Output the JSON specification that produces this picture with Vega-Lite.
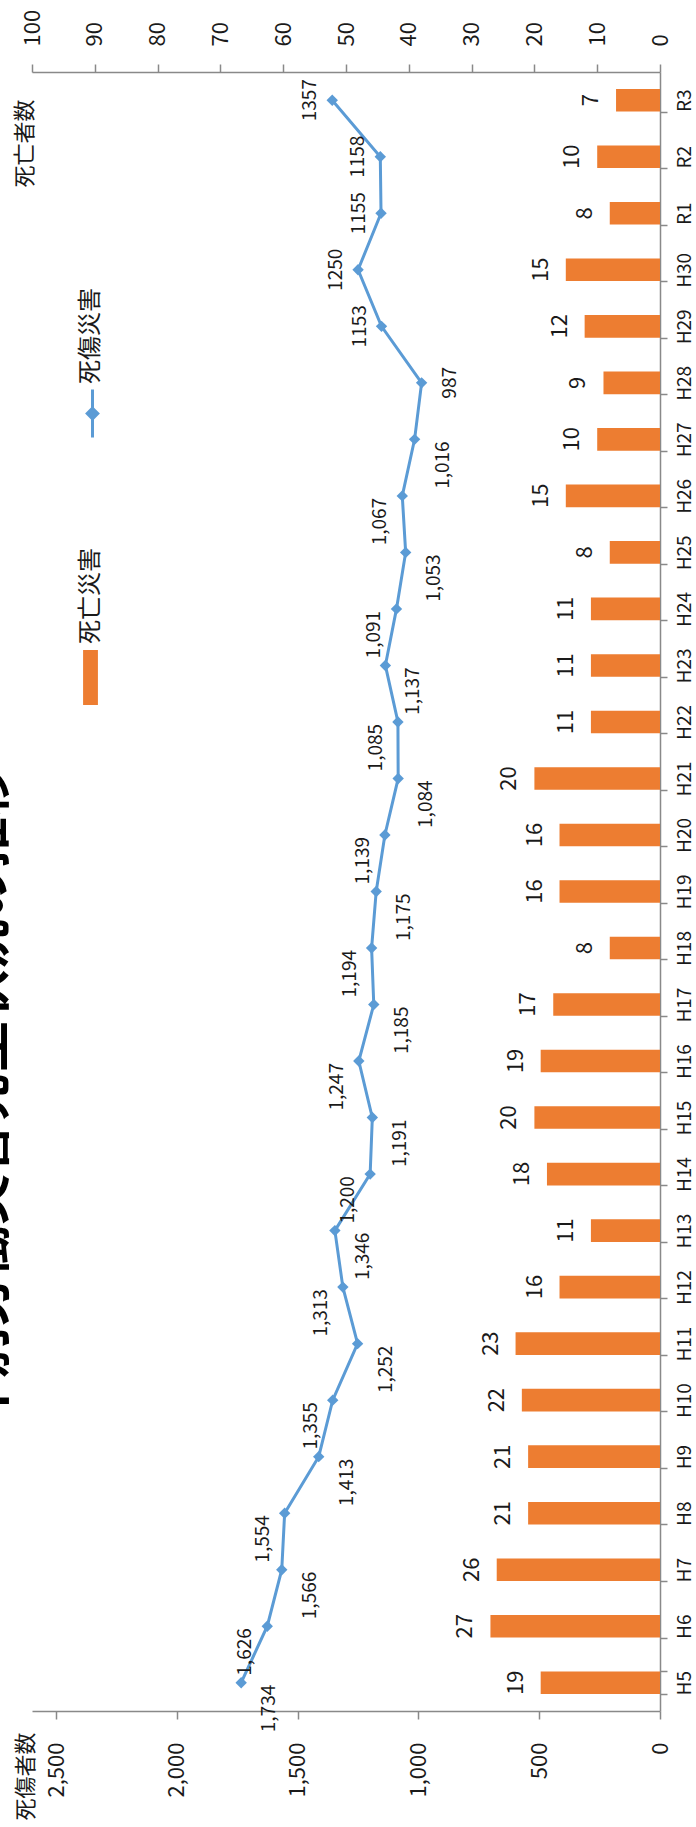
{
  "$schema": "https://vega.github.io/schema/vega-lite/v6.json",
  "width": 628,
  "height": 1639,
  "autosize": "none",
  "padding": {"left": 32, "top": 72, "right": 36, "bottom": 116},
  "background": "white",
  "config": {
    "font": "Noto Sans CJK JP",
    "view": {"stroke": null},
    "axis": {"grid": false, "domainColor": "#898989", "tickColor": "#898989", "domainWidth": 1.5, "tickWidth": 1.5, "labelColor": "#1a1a1a", "titleColor": "#1a1a1a", "titleFontWeight": "normal", "labelFont": "Noto Sans CJK JP", "titleFont": "Noto Sans CJK JP"}
  },
  "title": {
    "text": "年別労働災害発生状況の推移",
    "orient": "left",
    "anchor": "middle",
    "fontSize": 51,
    "fontWeight": "bold",
    "color": "#000000",
    "offset": -2,
    "dx": -206
  },
  "data": {
    "values": [
      {"year": "H5", "deaths": 19, "injuries": 1734, "label": "1,734"},
      {"year": "H6", "deaths": 27, "injuries": 1626, "label": "1,626"},
      {"year": "H7", "deaths": 26, "injuries": 1566, "label": "1,566"},
      {"year": "H8", "deaths": 21, "injuries": 1554, "label": "1,554"},
      {"year": "H9", "deaths": 21, "injuries": 1413, "label": "1,413"},
      {"year": "H10", "deaths": 22, "injuries": 1355, "label": "1,355"},
      {"year": "H11", "deaths": 23, "injuries": 1252, "label": "1,252"},
      {"year": "H12", "deaths": 16, "injuries": 1313, "label": "1,313"},
      {"year": "H13", "deaths": 11, "injuries": 1346, "label": "1,346"},
      {"year": "H14", "deaths": 18, "injuries": 1200, "label": "1,200"},
      {"year": "H15", "deaths": 20, "injuries": 1191, "label": "1,191"},
      {"year": "H16", "deaths": 19, "injuries": 1247, "label": "1,247"},
      {"year": "H17", "deaths": 17, "injuries": 1185, "label": "1,185"},
      {"year": "H18", "deaths": 8, "injuries": 1194, "label": "1,194"},
      {"year": "H19", "deaths": 16, "injuries": 1175, "label": "1,175"},
      {"year": "H20", "deaths": 16, "injuries": 1139, "label": "1,139"},
      {"year": "H21", "deaths": 20, "injuries": 1084, "label": "1,084"},
      {"year": "H22", "deaths": 11, "injuries": 1085, "label": "1,085"},
      {"year": "H23", "deaths": 11, "injuries": 1137, "label": "1,137"},
      {"year": "H24", "deaths": 11, "injuries": 1091, "label": "1,091"},
      {"year": "H25", "deaths": 8, "injuries": 1053, "label": "1,053"},
      {"year": "H26", "deaths": 15, "injuries": 1067, "label": "1,067"},
      {"year": "H27", "deaths": 10, "injuries": 1016, "label": "1,016"},
      {"year": "H28", "deaths": 9, "injuries": 987, "label": "987"},
      {"year": "H29", "deaths": 12, "injuries": 1153, "label": "1153"},
      {"year": "H30", "deaths": 15, "injuries": 1250, "label": "1250"},
      {"year": "R1", "deaths": 8, "injuries": 1155, "label": "1155"},
      {"year": "R2", "deaths": 10, "injuries": 1158, "label": "1158"},
      {"year": "R3", "deaths": 7, "injuries": 1357, "label": "1357"}
    ]
  },
  "encoding": {
    "y": {
      "field": "year",
      "type": "nominal",
      "scale": {
        "domain": ["H5","H6","H7","H8","H9","H10","H11","H12","H13","H14","H15","H16","H17","H18","H19","H20","H21","H22","H23","H24","H25","H26","H27","H28","H29","H30","R1","R2","R3"],
        "reverse": true,
        "paddingInner": 0.6,
        "paddingOuter": 0.3
      },
      "axis": {
        "orient": "right",
        "title": null,
        "labelAngle": -90,
        "labelAlign": "center",
        "labelBaseline": "top",
        "labelPadding": 8,
        "labelFontSize": 19,
        "labelOverlap": false,
        "tickSize": 7,
        "tickBand": "extent"
      }
    }
  },
  "layer": [
    {
      "encoding": {
        "x": {
          "field": "deaths",
          "type": "quantitative",
          "scale": {"domain": [0, 100], "reverse": true, "nice": false},
          "axis": {
            "orient": "top",
            "values": [0,10,20,30,40,50,60,70,80,90,100],
            "labelAngle": -90,
            "labelAlign": "left",
            "labelBaseline": "middle",
            "labelPadding": 18,
            "labelFontSize": 22,
            "labelFlush": false,
            "labelOverlap": false,
            "tickSize": 8,
            "title": "死亡者数",
            "titleAngle": -90,
            "titleAlign": "left",
            "titleBaseline": "middle",
            "titleX": -8,
            "titleY": 115,
            "titleFontSize": 22
          }
        }
      },
      "layer": [
        {
          "mark": {"type": "bar"},
          "encoding": {
            "fill": {
              "datum": "死亡災害",
              "type": "nominal",
              "scale": {"range": ["#ED7D31"]},
              "legend": {
                "orient": "none",
                "legendX": 31,
                "legendY": 578,
                "title": null,
                "padding": 0,
                "symbolType": "M-0.27,-1H0.27V1H-0.27Z",
                "symbolSize": 3025,
                "symbolStrokeWidth": 0,
                "labelFontSize": 24,
                "labelColor": "#1a1a1a",
                "encode": {
                  "labels": {
                    "update": {
                      "angle": {"value": -90},
                      "align": {"value": "left"},
                      "baseline": {"value": "middle"},
                      "x": {"value": 27.5},
                      "y": {"value": -6}
                    }
                  }
                }
              }
            }
          }
        },
        {
          "mark": {"type": "text", "angle": -90, "align": "center", "baseline": "middle", "fontSize": 22, "xOffset": -25, "color": "#1a1a1a"},
          "encoding": {"text": {"field": "deaths", "type": "quantitative"}}
        }
      ]
    },
    {
      "encoding": {
        "x": {
          "field": "injuries",
          "type": "quantitative",
          "scale": {"domain": [0, 2600], "reverse": true, "nice": false},
          "axis": {
            "orient": "bottom",
            "values": [0,500,1000,1500,2000,2500],
            "format": ",.0f",
            "labelAngle": -90,
            "labelAlign": "right",
            "labelBaseline": "middle",
            "labelPadding": 23,
            "labelFontSize": 22,
            "labelFlush": false,
            "labelOverlap": false,
            "tickSize": 8,
            "title": "死傷者数",
            "titleAngle": -90,
            "titleAlign": "right",
            "titleBaseline": "middle",
            "titleX": -7,
            "titleY": 21,
            "titleFontSize": 22
          }
        }
      },
      "layer": [
        {
          "mark": {"type": "line", "strokeWidth": 3},
          "encoding": {
            "order": {"value": null},
            "stroke": {
              "datum": "死傷災害",
              "type": "nominal",
              "scale": {"range": ["#5B9BD5"]},
              "legend": {
                "orient": "none",
                "legendX": 35,
                "legendY": 316,
                "title": null,
                "padding": 0,
                "symbolType": "M0,-1V1M0,-0.22L0.22,0L0,0.22L-0.22,0Z",
                "symbolSize": 2304,
                "symbolStrokeWidth": 3,
                "symbolFillColor": "#5B9BD5",
                "labelFontSize": 24,
                "labelColor": "#1a1a1a",
                "encode": {
                  "symbols": {"update": {"fill": {"value": "#5B9BD5"}}},
                  "labels": {
                    "update": {
                      "angle": {"value": -90},
                      "align": {"value": "left"},
                      "baseline": {"value": "middle"},
                      "x": {"value": 24},
                      "y": {"value": -4}
                    }
                  }
                }
              }
            }
          }
        },
        {
          "mark": {"type": "point", "shape": "diamond", "filled": true, "color": "#5B9BD5", "size": 130, "opacity": 1}
        },
        {
          "transform": [{"filter": {"field": "year", "oneOf": ["H5","H7","H9","H11","H13","H15","H17","H19","H21","H23","H25","H27"]}}],
          "mark": {"type": "text", "angle": -90, "align": "right", "baseline": "middle", "fontSize": 19, "xOffset": 28, "yOffset": 2, "color": "#1a1a1a"},
          "encoding": {"text": {"field": "label", "type": "nominal"}}
        },
        {
          "transform": [{"filter": {"field": "year", "oneOf": ["H6","H8","H10","H12","H14","H16","H18","H20","H22","H24","H26"]}}],
          "mark": {"type": "text", "angle": -90, "align": "right", "baseline": "middle", "fontSize": 19, "xOffset": -22, "yOffset": 2, "color": "#1a1a1a"},
          "encoding": {"text": {"field": "label", "type": "nominal"}}
        },
        {
          "transform": [{"filter": {"field": "year", "oneOf": ["H28"]}}],
          "mark": {"type": "text", "angle": -90, "align": "center", "baseline": "middle", "fontSize": 19, "xOffset": 28, "color": "#1a1a1a"},
          "encoding": {"text": {"field": "label", "type": "nominal"}}
        },
        {
          "transform": [{"filter": {"field": "year", "oneOf": ["H29","H30","R1","R2","R3"]}}],
          "mark": {"type": "text", "angle": -90, "align": "center", "baseline": "middle", "fontSize": 19, "xOffset": -22, "color": "#1a1a1a"},
          "encoding": {"text": {"field": "label", "type": "nominal"}}
        }
      ]
    }
  ],
  "resolve": {"scale": {"x": "independent"}, "axis": {"x": "independent"}}
}
